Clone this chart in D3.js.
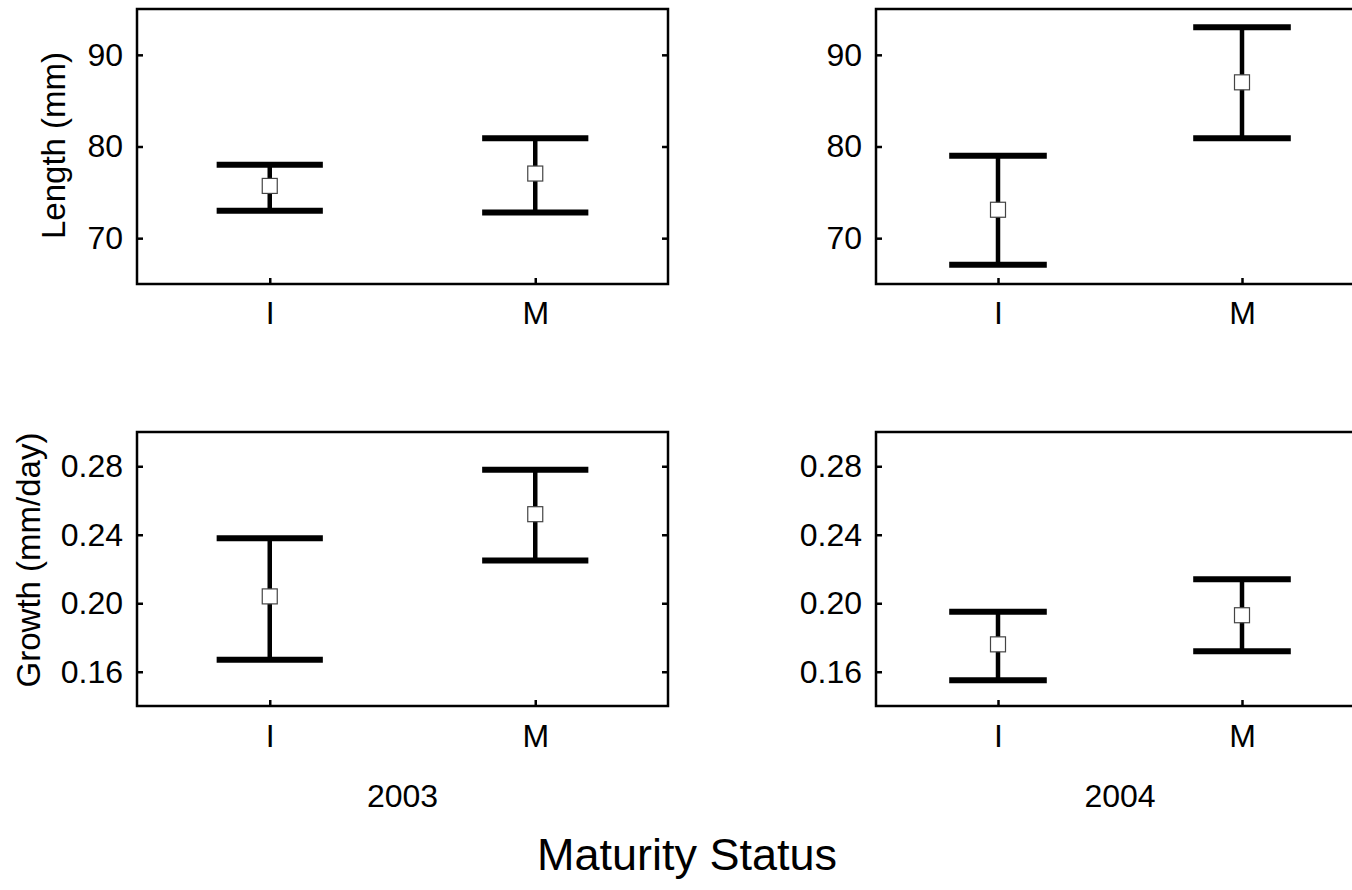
<!DOCTYPE html>
<html>
<head>
<meta charset="utf-8">
<script src="https://cdn.jsdelivr.net/npm/d3@7"></script>
<style>
  html, body { margin: 0; padding: 0; background: #fff; }
  svg { display: block; font-family: "Liberation Sans", Arial, sans-serif; }
</style>
</head>
<body>
<svg id="chart" width="1352" height="890"></svg>
<script>
// Categories and years
const categories = ["I", "M"];
const years = ["2003", "2004"];

// Length (mm): mean with lower / upper interval bounds
const length2003Mean = [75.7, 77.05];
const length2003Low  = [73.0, 72.8];
const length2003High = [78.0, 80.9];
const length2004Mean = [73.1, 87.0];
const length2004Low  = [67.1, 80.9];
const length2004High = [79.0, 93.0];

// Growth (mm/day): mean with lower / upper interval bounds
const growth2003Mean = [0.204, 0.252];
const growth2003Low  = [0.167, 0.225];
const growth2003High = [0.238, 0.278];
const growth2004Mean = [0.176, 0.193];
const growth2004Low  = [0.155, 0.172];
const growth2004High = [0.195, 0.214];

// Axis ticks and ranges
const lengthTicks = [70, 80, 90];
const lengthDomain = [65, 95];
const growthTicks = [0.16, 0.20, 0.24, 0.28];
const growthDomain = [0.14, 0.30];

const svg = d3.select("#chart");

// Panel layout
const cols = [{ x: 137, w: 531 }, { x: 876, w: 488 }];
const rows = [
  { y: 9, h: 275, domain: lengthDomain, ticks: lengthTicks, fmt: d3.format("d"),
    title: "Length (mm)", titleX: 65, titleY: 145.5, labelPad: 17 },
  { y: 432, h: 274, domain: growthDomain, ticks: growthTicks, fmt: d3.format(".2f"),
    title: "Growth (mm/day)", titleX: 40, titleY: 560, labelPad: 18 }
];

const panelData = [
  [ { mean: length2003Mean, low: length2003Low, high: length2003High },
    { mean: length2004Mean, low: length2004Low, high: length2004High } ],
  [ { mean: growth2003Mean, low: growth2003Low, high: growth2003High },
    { mean: growth2004Mean, low: growth2004Low, high: growth2004High } ]
];

const fontSize = 32;

rows.forEach((row, ri) => {
  cols.forEach((col, ci) => {
    const series = panelData[ri][ci];
    const g = svg.append("g").attr("transform", `translate(${col.x},${row.y})`);

    const x = d3.scalePoint().domain(categories).range([0, col.w]).padding(0.5);
    const y = d3.scaleLinear().domain(row.domain).range([row.h, 0]);

    // Left axis: inward ticks with labels
    const left = g.append("g").call(
      d3.axisLeft(y).tickValues(row.ticks).tickFormat(row.fmt)
        .tickSizeInner(-6).tickSizeOuter(0).tickPadding(14)
    );
    // Right axis: inward ticks only
    const right = g.append("g").attr("transform", `translate(${col.w},0)`).call(
      d3.axisRight(y).tickValues(row.ticks).tickFormat("")
        .tickSizeInner(-6).tickSizeOuter(0)
    );
    // Bottom axis: inward ticks with category labels
    const bottom = g.append("g").attr("transform", `translate(0,${row.h})`).call(
      d3.axisBottom(x).tickSizeInner(-6).tickSizeOuter(0).tickPadding(row.labelPad)
    );

    [left, right, bottom].forEach(ax => {
      ax.select(".domain").remove();
      ax.selectAll(".tick line").attr("stroke", "#000").attr("stroke-width", 2.5);
      ax.selectAll(".tick text")
        .attr("fill", "#000")
        .style("font-size", fontSize + "px")
        .style("font-family", "'Liberation Sans', Arial, sans-serif");
    });

    // Frame
    g.append("rect")
      .attr("x", 0).attr("y", 0)
      .attr("width", col.w).attr("height", row.h)
      .attr("fill", "none").attr("stroke", "#000").attr("stroke-width", 2.5);

    const capHalf = x.step() * 0.2;
    const idx = d3.range(categories.length);

    // Vertical stems
    g.selectAll(".stem").data(idx).join("line")
      .attr("class", "stem")
      .attr("x1", i => x(categories[i])).attr("x2", i => x(categories[i]))
      .attr("y1", i => y(series.low[i])).attr("y2", i => y(series.high[i]))
      .attr("stroke", "#000").attr("stroke-width", 4.5);

    // Caps
    ["low", "high"].forEach(k => {
      g.selectAll(".cap-" + k).data(idx).join("line")
        .attr("class", "cap-" + k)
        .attr("x1", i => x(categories[i]) - capHalf)
        .attr("x2", i => x(categories[i]) + capHalf)
        .attr("y1", i => y(series[k][i])).attr("y2", i => y(series[k][i]))
        .attr("stroke", "#000").attr("stroke-width", 6);
    });

    // Mean markers
    const ms = 15;
    g.selectAll(".mean").data(idx).join("rect")
      .attr("class", "mean")
      .attr("x", i => x(categories[i]) - ms / 2)
      .attr("y", i => y(series.mean[i]) - ms / 2)
      .attr("width", ms).attr("height", ms)
      .attr("fill", "#fff").attr("stroke", "#444").attr("stroke-width", 1.2);

    // Year label under bottom panels
    if (ri === rows.length - 1) {
      svg.append("text")
        .attr("x", col.x + col.w / 2).attr("y", 807)
        .attr("text-anchor", "middle")
        .style("font-size", fontSize + "px")
        .text(years[ci]);
    }
  });

  // Row title
  svg.append("text")
    .attr("transform", `translate(${row.titleX},${row.titleY}) rotate(-90)`)
    .attr("text-anchor", "middle")
    .style("font-size", "33px")
    .text(row.title);
});

// Overall axis title
svg.append("text")
  .attr("x", 687).attr("y", 870)
  .attr("text-anchor", "middle")
  .style("font-size", "45px")
  .text("Maturity Status");
</script>
</body>
</html>
